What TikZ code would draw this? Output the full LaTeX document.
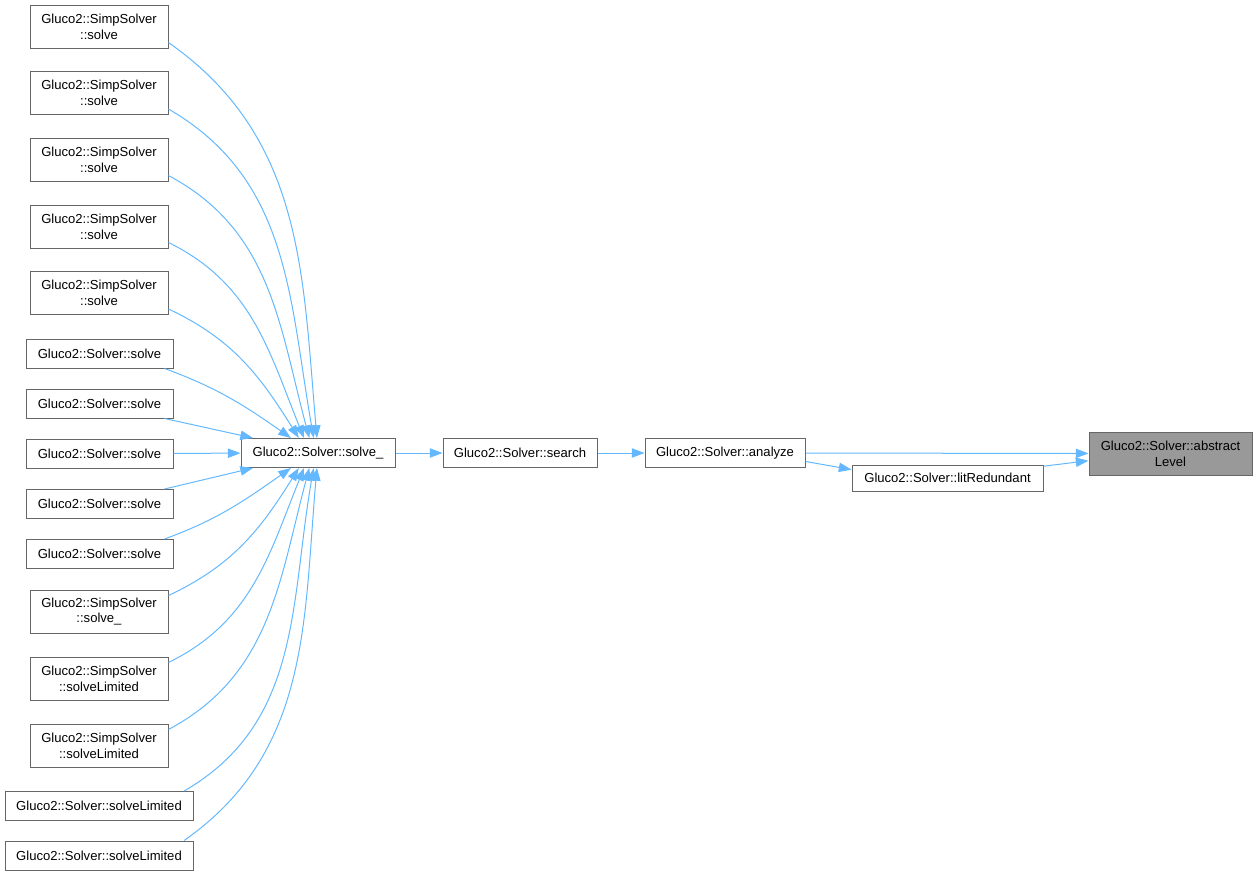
\documentclass[tikz,border=0pt]{standalone}
\usepackage{fontspec}
\setmainfont{Liberation Sans}
\usetikzlibrary{arrows.meta}
\definecolor{edgeblue}{HTML}{63B8FF}
\definecolor{boxline}{HTML}{666666}
\definecolor{boxfill}{HTML}{999999}
\begin{document}
\begin{tikzpicture}[x=0.75pt,y=-0.75pt,
	fn/.style={draw=boxline,line width=0.75pt,fill=white,inner sep=0pt,align=center,
		font=\fontsize{9.8}{11.8}\selectfont},
	twoline/.style={fn,minimum width=103.5pt,minimum height=32.25pt},
	oneline/.style={fn,minimum width=110.25pt,minimum height=21.75pt},
	call/.style={draw=edgeblue,line width=0.75pt,-{Triangle[length=9.5pt,width=7pt]}}]
	\useasboundingbox(0,0)rectangle(1258,875);
	\node[twoline](ss1)at(99,26.5){Gluco2::SimpSolver\\::solve};
	\node[twoline](ss2)at(99,93){Gluco2::SimpSolver\\::solve};
	\node[twoline](ss3)at(99,159.5){Gluco2::SimpSolver\\::solve};
	\node[twoline](ss4)at(99,226.5){Gluco2::SimpSolver\\::solve};
	\node[twoline](ss5)at(99,293){Gluco2::SimpSolver\\::solve};
	\node[oneline](s1)at(99.5,353.5){Gluco2::Solver::solve};
	\node[oneline](s2)at(99.5,403.5){Gluco2::Solver::solve};
	\node[oneline](s3)at(99.5,453.5){Gluco2::Solver::solve};
	\node[oneline](s4)at(99.5,504){Gluco2::Solver::solve};
	\node[oneline](s5)at(99.5,554){Gluco2::Solver::solve};
	\node[twoline](ssu)at(99,611.5){Gluco2::SimpSolver\\::solve\_};
	\node[twoline](ssl1)at(99,678.5){Gluco2::SimpSolver\\::solveLimited};
	\node[twoline](ssl2)at(99,745.5){Gluco2::SimpSolver\\::solveLimited};
	\node[oneline,minimum width=141pt](sl1)at(99,806){Gluco2::Solver::solveLimited};
	\node[oneline,minimum width=141pt](sl2)at(99,855.5){Gluco2::Solver::solveLimited};
	\node[oneline,minimum width=115.5pt](solveu)at(318,453){Gluco2::Solver::solve\_};
	\node[oneline,minimum width=115.5pt](search)at(520,453){Gluco2::Solver::search};
	\node[oneline,minimum width=120pt](analyze)at(725,453){Gluco2::Solver::analyze};
	\node[oneline,minimum width=143.25pt,minimum height=19.5pt](litred)at(947.5,478){Gluco2::Solver::litRedundant};
	\node[twoline,minimum width=122.25pt,fill=boxfill](abslevel)at(1170.5,453.5){Gluco2::Solver::abstract\\Level};
	\draw[call](ss1.-13)to[out=-35,in=95](solveu.94);
	\draw[call](ss2.-13)to[out=-30,in=100](solveu.106);
	\draw[call](ss3.-13)to[out=-28,in=105](solveu.120);
	\draw[call](ss4.-13)to[out=-26,in=112](solveu.133);
	\draw[call](ss5.-13)to[out=-25,in=122](solveu.142);
	\draw[call](s1.-13)to[out=-20,in=145](solveu.151);
	\draw[call](s2.-13)--(solveu.167);
	\draw[call](s3)--(solveu);
	\draw[call](s4.13)--(solveu.193);
	\draw[call](s5.13)to[out=20,in=-145](solveu.209);
	\draw[call](ssu.13)to[out=25,in=-122](solveu.218);
	\draw[call](ssl1.13)to[out=26,in=-112](solveu.227);
	\draw[call](ssl2.13)to[out=28,in=-105](solveu.240);
	\draw[call](sl1.10)to[out=30,in=-100](solveu.254);
	\draw[call](sl2.10)to[out=35,in=-95](solveu.266);
	\draw[call](solveu)--(search);
	\draw[call](search)--(analyze);
	\draw[call](analyze)--(abslevel);
	\draw[call](analyze.-6)--(litred.175);
	\draw[call](litred.7)--(abslevel.185);
\end{tikzpicture}
\end{document}
